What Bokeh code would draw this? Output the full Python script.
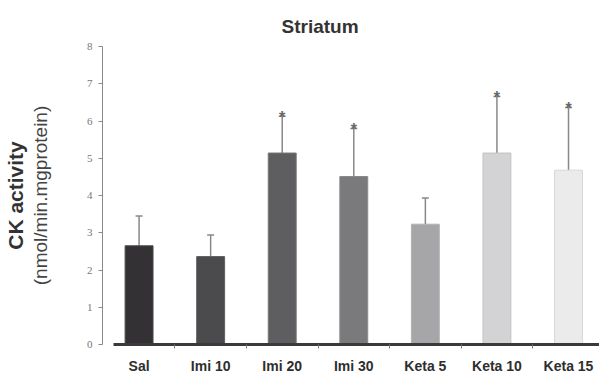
from bokeh.plotting import figure
from bokeh.models import (ColumnDataSource, Range1d, FixedTicker, LinearAxis,
                          Whisker, TeeHead)
from bokeh.core.properties import value
from bokeh.embed import file_html
from bokeh.resources import INLINE

# ---- data ----
categories = ["Sal", "Imi 10", "Imi 20", "Imi 30", "Keta 5", "Keta 10", "Keta 15"]
means = [2.65, 2.36, 5.14, 4.51, 3.23, 5.14, 4.68]
sds = [0.80, 0.58, 0.99, 1.29, 0.70, 1.52, 1.68]
significant = [False, False, True, True, False, True, True]
y_ticks = [0, 1, 2, 3, 4, 5, 6, 7, 8]

fill_colors = ["#333133", "#4b4b4d", "#5e5e60", "#7a7a7c", "#a6a6a8", "#d3d3d5", "#ebebec"]
edge_colors = ["#4a4a4a", "#5e5e5e", "#747474", "#8a8a8a", "#b3b3b3", "#c4c4c4", "#d8d8d8"]

idx = list(range(len(categories)))
upper = [m + s for m, s in zip(means, sds)]

src = ColumnDataSource(dict(
    x=idx, mean=means, upper=upper,
    fill=fill_colors, edge=edge_colors,
    star=["*" if s else "" for s in significant],
))

p = figure(width=599, height=376, output_backend="svg", toolbar_location=None,
           x_range=Range1d(-0.511, 6.433), y_range=Range1d(0, 8),
           min_border_left=99, min_border_right=0, min_border_top=46,
           min_border_bottom=30)
p.outline_line_color = None
p.xgrid.visible = False
p.ygrid.visible = False
p.background_fill_color = "white"

# title
p.title.text = "Striatum"
p.title.text_font = "Liberation Sans"
p.title.text_font_style = "bold"
p.title.text_font_size = "19px"
p.title.text_color = "#333333"
p.title.align = "left"
p.title.offset = 179
p.title.standoff = 20

# bars
p.vbar(x="x", top="mean", bottom=0, width=0.39, source=src,
       fill_color="fill", line_color="edge", line_width=1)

# error bars (upper only)
w = Whisker(base="x", lower="mean", upper="upper", source=src, dimension="height",
            line_color="#888888", line_width=1.5,
            upper_head=TeeHead(size=7, line_color="#888888", line_width=1.5),
            lower_head=None)
p.add_layout(w)

# significance stars
p.text(x="x", y="upper", text="star", source=src, text_align="center",
       text_baseline="alphabetic", y_offset=1,
       text_font=value("Liberation Sans"), text_font_style="bold",
       text_font_size="16px", text_color="#666666")

# x axis
xa = p.xaxis[0]
xa.ticker = FixedTicker(ticks=idx, minor_ticks=[i + 0.5 for i in idx[:-1]])
xa.major_label_overrides = {i: c for i, c in zip(idx, categories)}
xa.major_tick_out = 0
xa.major_tick_in = 0
xa.minor_tick_out = 4
xa.minor_tick_in = 0
xa.minor_tick_line_color = "#777777"
xa.axis_line_width = 3
xa.axis_line_color = "#3a3a3a"
xa.bounds = (-0.358, 6.433)
xa.major_label_standoff = 9
xa.major_label_text_font = "Liberation Sans"
xa.major_label_text_font_style = "bold"
xa.major_label_text_font_size = "14px"
xa.major_label_text_color = "#2e2e2e"

# y axis
ya = p.yaxis[0]
ya.ticker = FixedTicker(ticks=y_ticks)
ya.minor_tick_line_color = None
ya.major_tick_out = 4
ya.major_tick_in = 0
ya.major_tick_line_color = "#888888"
ya.axis_line_color = "#888888"
ya.major_label_standoff = 6
ya.major_label_text_font = "Liberation Serif"
ya.major_label_text_font_size = "11px"
ya.major_label_text_color = "#777777"
ya.axis_label = "(nmol/min.mgprotein)"
ya.axis_label_text_font = "Liberation Sans"
ya.axis_label_text_font_style = "normal"
ya.axis_label_text_font_size = "19px"
ya.axis_label_text_color = "#444444"
ya.axis_label_standoff = 33

ya2 = LinearAxis(ticker=FixedTicker(ticks=[]), axis_line_color=None,
                 major_tick_line_color=None, minor_tick_line_color=None,
                 major_label_text_font_size="0px",
                 axis_label="CK activity", axis_label_standoff=0,
                 axis_label_text_font="Liberation Sans",
                 axis_label_text_font_style="bold",
                 axis_label_text_font_size="21px",
                 axis_label_text_color="#333333")
p.add_layout(ya2, "left")

open("out.html", "w").write(file_html(p, INLINE))
